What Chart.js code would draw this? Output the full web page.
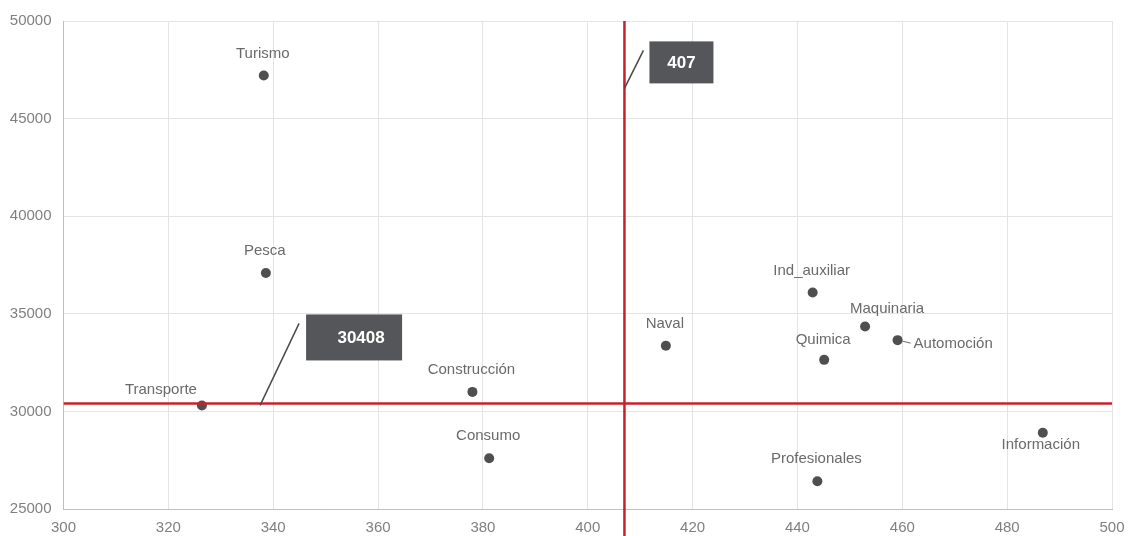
<!DOCTYPE html>
<html>
<head>
<meta charset="utf-8">
<script src="https://cdn.jsdelivr.net/npm/chart.js@4.4.1/dist/chart.umd.min.js"></script>
<style>
  html, body { margin: 0; padding: 0; background: #fff; }
  #wrap { width: 1132px; height: 536px; }
</style>
</head>
<body>
<div id="wrap"><canvas id="sectores"></canvas></div>
<script>
// sectores: productividad (x) frente a salario medio (y)
var sectors = ['Turismo', 'Pesca', 'Transporte', 'Construcción', 'Consumo', 'Naval',
               'Ind_auxiliar', 'Maquinaria', 'Quimica', 'Automoción', 'Profesionales', 'Información'];
var xValues = [338.2, 338.6, 326.4, 378.0, 381.2, 414.9, 442.9, 452.9, 445.1, 459.1, 443.8, 486.8];
var yValues = [47205, 37090, 30300, 31000, 27600, 33360, 36090, 34350, 32640, 33650, 26420, 28910];

// medias de referencia (líneas rojas)
var avgX = 407;
var avgY = 30408;

var xTicks = [300, 320, 340, 360, 380, 400, 420, 440, 460, 480, 500];
var yTicks = [25000, 30000, 35000, 40000, 45000, 50000];

// desplazamiento de cada etiqueta respecto a su punto: [dx, dy, align]
var labelOffsets = {
    'Transporte': [-41, -16, 'center'],
    'Maquinaria': [22, -18, 'center'],
    'Quimica': [-1, -20, 'center'],
    'Automoción': [16, 4, 'left'],
    'Información': [-2, 12, 'center']
};

var FONT = '"Liberation Sans", Arial, sans-serif';

var pointLabels = {
    id: 'pointLabels',
    afterDatasetsDraw: function(chart) {
        var ctx = chart.ctx;
        var meta = chart.getDatasetMeta(0);
        ctx.save();
        ctx.font = '15px ' + FONT;
        ctx.fillStyle = '#6a6a6a';
        ctx.textBaseline = 'middle';
        meta.data.forEach(function(pt, i) {
            var off = labelOffsets[sectors[i]] || [-1, -22, 'center'];
            ctx.textAlign = off[2];
            ctx.fillText(sectors[i], pt.x + off[0], pt.y + off[1]);
            if (sectors[i] === 'Automoción') {
                ctx.strokeStyle = '#6a6a6a';
                ctx.lineWidth = 1;
                ctx.beginPath();
                ctx.moveTo(pt.x + 5, pt.y + 1);
                ctx.lineTo(pt.x + 13, pt.y + 3);
                ctx.stroke();
            }
        });
        ctx.restore();
    }
};

// etiquetas con caja oscura y línea guía hacia las medias
var callouts = [
    { text: String(avgX), x: avgX, y: 46650, lead: [19, -38], box: [25, -47, 64, 42], textDx: 0 },
    { text: String(avgY), x: 337.5, y: avgY, lead: [39, -82], box: [46, -91, 96, 46], textDx: 7 }
];

var calloutPlugin = {
    id: 'callouts',
    afterDraw: function(chart) {
        var ctx = chart.ctx;
        var sx = chart.scales.x, sy = chart.scales.y;
        ctx.save();
        callouts.forEach(function(c) {
            var ax = sx.getPixelForValue(c.x);
            var ay = sy.getPixelForValue(c.y) + 2;
            ctx.strokeStyle = '#4a4a4a';
            ctx.lineWidth = 1.5;
            ctx.beginPath();
            ctx.moveTo(ax, ay);
            ctx.lineTo(ax + c.lead[0], ay + c.lead[1]);
            ctx.stroke();
            var bx = ax + c.box[0], by = ay + c.box[1];
            ctx.fillStyle = '#55565a';
            ctx.fillRect(bx, by, c.box[2], c.box[3]);
            ctx.fillStyle = '#ffffff';
            ctx.font = 'bold 17px ' + FONT;
            ctx.textAlign = 'center';
            ctx.textBaseline = 'middle';
            ctx.fillText(c.text, bx + c.box[2] / 2 + c.textDx, by + c.box[3] / 2 + 1);
        });
        ctx.restore();
    }
};

var points = xValues.map(function(x, i) { return { x: x, y: yValues[i] }; });

var ctx = document.getElementById('sectores').getContext('2d');
var chart = new Chart(ctx, {
    type: 'scatter',
    data: {
        datasets: [{
            label: 'Sectores',
            data: points,
            backgroundColor: '#4f4f52',
            borderWidth: 0,
            pointRadius: 5,
            pointHoverRadius: 5,
            order: 2
        }, {
            label: 'Media X',
            type: 'line',
            data: [{ x: avgX, y: 50000 }, { x: avgX, y: 23600 }],
            borderColor: '#c8202b',
            borderWidth: 2.5,
            pointRadius: 0,
            clip: false,
            order: 1
        }, {
            label: 'Media Y',
            type: 'line',
            data: [{ x: 300, y: avgY }, { x: 500, y: avgY }],
            borderColor: '#c8202b',
            borderWidth: 2.5,
            pointRadius: 0,
            order: 1
        }]
    },
    options: {
        responsive: true,
        maintainAspectRatio: false,
        animation: false,
        layout: { padding: { top: 21, right: 20, left: 0, bottom: 0 } },
        plugins: {
            legend: { display: false },
            tooltip: { enabled: false }
        },
        scales: {
            x: {
                type: 'linear',
                min: 300,
                max: 500,
                afterBuildTicks: function(scale) {
                    scale.ticks = xTicks.map(function(v) { return { value: v }; });
                },
                afterFit: function(scale) {
                    scale.height = 27;
                    scale.paddingLeft = 0;
                    scale.paddingRight = 0;
                },
                grid: { color: '#e4e4e4', lineWidth: 1, drawTicks: false },
                border: { color: '#bfbfbf', width: 1 },
                ticks: {
                    color: '#808080',
                    font: { size: 15, family: FONT },
                    padding: 10,
                    callback: function(v) { return String(v); }
                }
            },
            y: {
                type: 'linear',
                min: 25000,
                max: 50000,
                afterBuildTicks: function(scale) {
                    scale.ticks = yTicks.map(function(v) { return { value: v }; });
                },
                afterFit: function(scale) {
                    scale.width = 63.5;
                    scale.paddingTop = 0;
                    scale.paddingBottom = 0;
                },
                grid: { color: '#e4e4e4', lineWidth: 1, drawTicks: false },
                border: { color: '#bfbfbf', width: 1 },
                ticks: {
                    color: '#808080',
                    font: { size: 15, family: FONT },
                    padding: 12,
                    callback: function(v) { return String(v); }
                }
            }
        }
    },
    plugins: [pointLabels, calloutPlugin]
});
</script>
</body>
</html>
